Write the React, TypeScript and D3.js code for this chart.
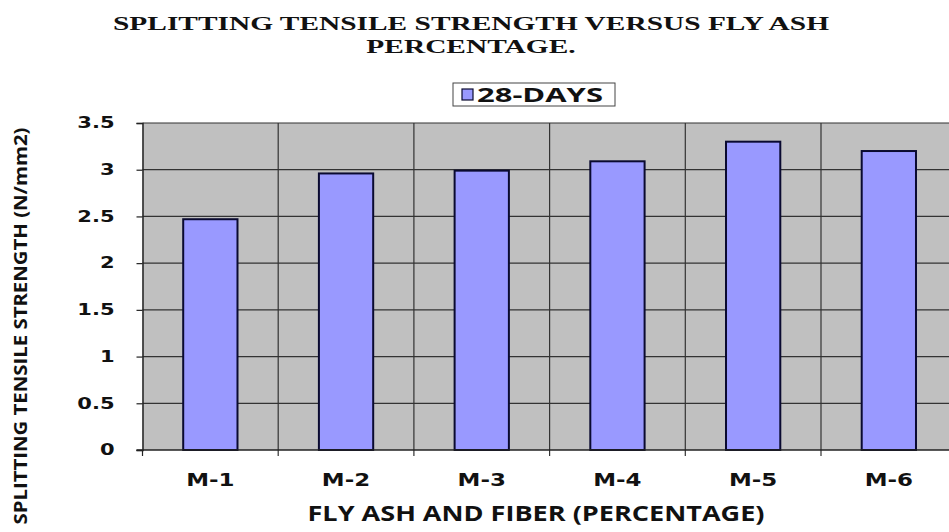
import React, { useEffect, useRef } from 'react'
import * as d3 from 'd3'

const categories = ['M-1', 'M-2', 'M-3', 'M-4', 'M-5', 'M-6']
const strength28 = [2.47, 2.96, 2.99, 3.09, 3.3, 3.2]
const yTicks = [0, 0.5, 1, 1.5, 2, 2.5, 3, 3.5]

const W = 949
const H = 532

// the reference text is stretched sideways, so widen each label by a factor
function stretch(sel: d3.Selection<SVGTextElement, any, any, any>, factor: number) {
  sel.each(function () {
    const n = (this as SVGTextElement).getComputedTextLength()
    d3.select(this).attr('textLength', n * factor).attr('lengthAdjust', 'spacingAndGlyphs')
  })
}

const App: React.FC = () => {
  const ref = useRef<SVGSVGElement>(null)

  useEffect(() => {
    if (!ref.current) return
    const svg = d3.select(ref.current)
    svg.selectAll('*').remove()

    const left = 142.5
    const top = 123
    const bottom = 450
    const catW = 135.7

    const x = d3.scaleBand<string>()
      .domain(categories)
      .range([left, left + catW * categories.length])
      .padding(0)

    const y = d3.scaleLinear().domain([0, 3.5]).range([bottom, top])

    const tickFont = '"DejaVu Sans", Verdana, sans-serif'
    const labelFont = '"Open Sans", Calibri, sans-serif'

    // title
    const t1 = svg.append('text')
      .attr('x', 471).attr('y', 30)
      .attr('text-anchor', 'middle')
      .attr('font-family', '"Liberation Serif", "Times New Roman", serif')
      .attr('font-weight', 'bold')
      .attr('font-size', 19)
      .attr('fill', '#111')
      .text('SPLITTING TENSILE STRENGTH VERSUS FLY ASH')
    const n1 = (t1.node() as SVGTextElement).getComputedTextLength()
    const titleFactor = 716 / n1
    t1.attr('textLength', 716).attr('lengthAdjust', 'spacingAndGlyphs')
    const t2 = svg.append('text')
      .attr('x', 471).attr('y', 53)
      .attr('text-anchor', 'middle')
      .attr('font-family', '"Liberation Serif", "Times New Roman", serif')
      .attr('font-weight', 'bold')
      .attr('font-size', 19)
      .attr('fill', '#111')
      .text('PERCENTAGE.')
    stretch(t2, titleFactor)

    // plot background
    svg.append('rect')
      .attr('x', left)
      .attr('y', top)
      .attr('width', W - left)
      .attr('height', bottom - top)
      .attr('fill', '#c0c0c0')

    // horizontal grid
    svg.append('g')
      .selectAll('line')
      .data(yTicks.filter(d => d > 0))
      .enter().append('line')
      .attr('x1', left)
      .attr('x2', W)
      .attr('y1', d => y(d))
      .attr('y2', d => y(d))
      .attr('stroke', '#333')
      .attr('stroke-width', 1.2)

    // vertical grid at category boundaries
    svg.append('g')
      .selectAll('line')
      .data(categories.slice(1))
      .enter().append('line')
      .attr('x1', d => x(d) as number)
      .attr('x2', d => x(d) as number)
      .attr('y1', top)
      .attr('y2', bottom + 6)
      .attr('stroke', '#333')
      .attr('stroke-width', 1.2)

    // bars
    const barW = x.bandwidth() * 0.4
    svg.append('g')
      .selectAll('rect')
      .data(categories)
      .enter().append('rect')
      .attr('x', d => (x(d) as number) + (x.bandwidth() - barW) / 2)
      .attr('y', (d, i) => y(strength28[i]))
      .attr('width', barW)
      .attr('height', (d, i) => bottom - y(strength28[i]))
      .attr('fill', '#9999ff')
      .attr('stroke', '#0a0a30')
      .attr('stroke-width', 2)

    // y axis
    const yAxis = svg.append('g')
      .attr('transform', `translate(${left},0)`)
      .call(d3.axisLeft(y).tickValues(yTicks).tickSize(6).tickPadding(22).tickFormat(d => String(d)))
    yAxis.select('.domain').attr('stroke', '#222').attr('stroke-width', 1.5)
    yAxis.selectAll('.tick line').attr('stroke', '#222').attr('stroke-width', 1.2)
    const yLabels = yAxis.selectAll<SVGTextElement, number>('.tick text')
      .attr('font-family', tickFont)
      .attr('font-weight', 'bold')
      .attr('font-size', 15)
      .attr('fill', '#111')
    stretch(yLabels, 1.4)

    // x axis
    svg.append('line')
      .attr('x1', left - 6)
      .attr('x2', W)
      .attr('y1', bottom)
      .attr('y2', bottom)
      .attr('stroke', '#222')
      .attr('stroke-width', 1.5)
    svg.append('line')
      .attr('x1', left)
      .attr('x2', left)
      .attr('y1', bottom)
      .attr('y2', bottom + 6)
      .attr('stroke', '#222')
      .attr('stroke-width', 1.2)

    const xLabels = svg.append('g')
      .selectAll<SVGTextElement, string>('text')
      .data(categories)
      .enter().append('text')
      .attr('x', d => (x(d) as number) + x.bandwidth() / 2)
      .attr('y', 486)
      .attr('text-anchor', 'middle')
      .attr('font-family', tickFont)
      .attr('font-weight', 'bold')
      .attr('font-size', 17)
      .attr('fill', '#111')
      .text(d => d)
    stretch(xLabels, 1.35)

    svg.append('text')
      .attr('x', 536)
      .attr('y', 521)
      .attr('text-anchor', 'middle')
      .attr('font-family', labelFont)
      .attr('font-weight', 'bold')
      .attr('font-size', 21)
      .attr('fill', '#111')
      .attr('textLength', 457)
      .attr('lengthAdjust', 'spacingAndGlyphs')
      .text('FLY ASH AND FIBER (PERCENTAGE)')

    svg.append('text')
      .attr('transform', 'translate(27,326) rotate(-90)')
      .attr('text-anchor', 'middle')
      .attr('font-family', labelFont)
      .attr('font-weight', 'bold')
      .attr('font-size', 18)
      .attr('fill', '#111')
      .attr('textLength', 397)
      .attr('lengthAdjust', 'spacingAndGlyphs')
      .text('SPLITTING TENSILE STRENGTH (N/mm2)')

    // legend
    const lg = svg.append('g')
    lg.append('rect')
      .attr('x', 453).attr('y', 83).attr('width', 162).attr('height', 23)
      .attr('fill', '#fff').attr('stroke', '#444').attr('stroke-width', 1)
    lg.append('rect')
      .attr('x', 462).attr('y', 89).attr('width', 11).attr('height', 11)
      .attr('fill', '#9999ff').attr('stroke', '#0a0a30').attr('stroke-width', 1.2)
    lg.append('text')
      .attr('x', 477).attr('y', 101.5)
      .attr('font-family', labelFont)
      .attr('font-weight', 'bold')
      .attr('font-size', 19)
      .attr('fill', '#111')
      .attr('textLength', 126)
      .attr('lengthAdjust', 'spacingAndGlyphs')
      .text('28-DAYS')
  }, [])

  return (
    <svg
      ref={ref}
      width={W}
      height={H}
      style={{ position: 'absolute', left: 0, top: 0, background: '#fff' }}
    />
  )
}

export default App
